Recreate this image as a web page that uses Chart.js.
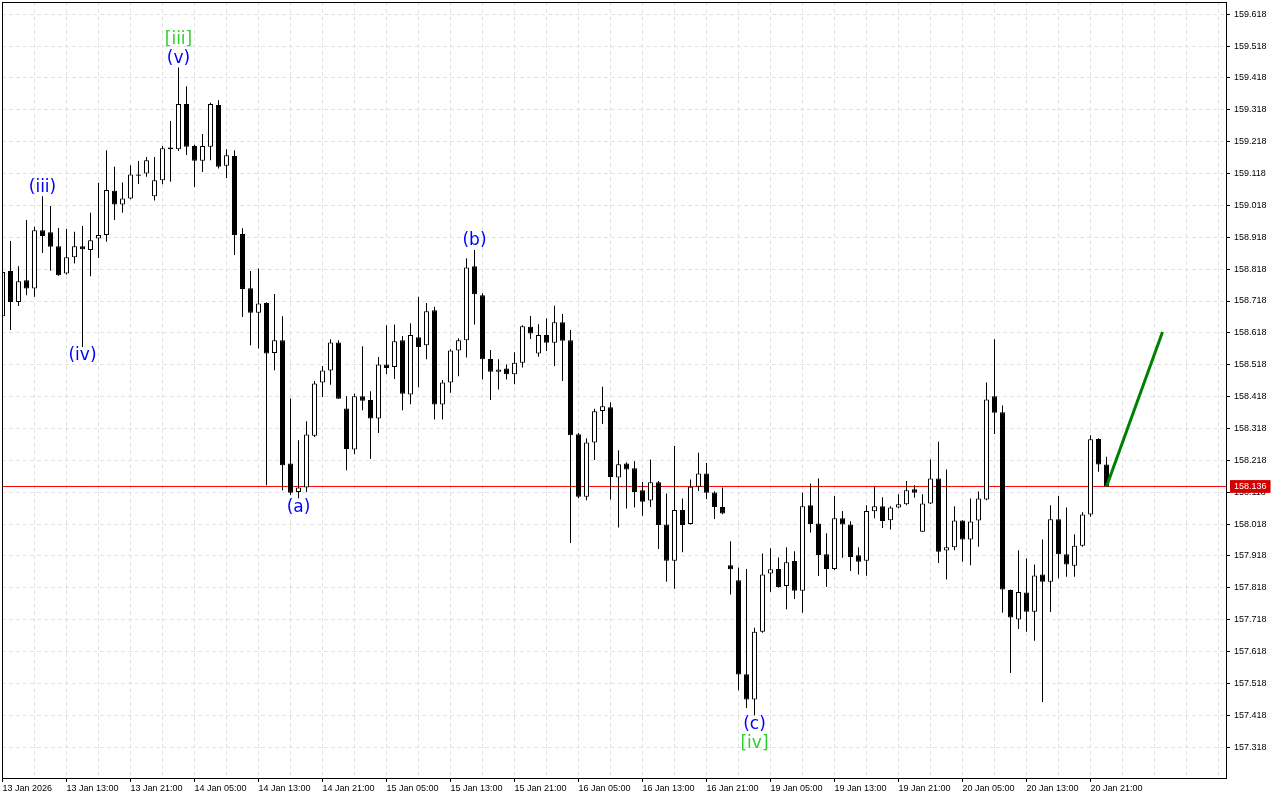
<!DOCTYPE html>
<html>
<head>
<meta charset="utf-8">
<script src="https://cdn.jsdelivr.net/npm/chart.js@4/dist/chart.umd.min.js"></script>
<style>
  html, body { margin: 0; padding: 0; background: #fff; }
  #wrap { width: 1280px; height: 800px; }
</style>
</head>
<body>
<div id="wrap"><canvas id="chart" width="1280" height="800"></canvas></div>
<script>
// H1 bars, 13 Jan 05:00 .. 20 Jan 23:00 (139 bars)
const opens = [
  158.670, 158.812, 158.715, 158.783, 158.757, 158.940, 158.934, 158.890, 158.804, 158.855,
  158.890, 158.878, 158.914, 158.925, 159.064, 159.021, 159.040, 159.115, 159.118, 159.047,
  159.097, 159.200, 159.194, 159.336, 159.204, 159.158, 159.202, 159.333, 159.142, 159.173,
  158.928, 158.758, 158.681, 158.712, 158.555, 158.595, 158.208, 158.119, 158.133, 158.295,
  158.462, 158.500, 158.588, 158.381, 158.252, 158.419, 158.407, 158.349, 158.519, 158.511,
  158.595, 158.425, 158.604, 158.579, 158.689, 158.393, 158.462, 158.563, 158.595, 158.827,
  158.736, 158.536, 158.496, 158.506, 158.488, 158.524, 158.637, 158.553, 158.611, 158.587,
  158.651, 158.595, 158.300, 158.104, 158.274, 158.373, 158.385, 158.164, 158.208, 158.193,
  158.124, 158.092, 158.149, 158.017, 157.903, 158.062, 158.018, 158.135, 158.177, 158.117,
  158.072, 157.889, 157.842, 157.547, 157.468, 157.680, 157.863, 157.877, 157.824, 157.902,
  157.809, 158.077, 158.020, 157.923, 157.877, 158.036, 158.017, 157.920, 157.903, 158.058,
  158.074, 158.030, 158.070, 158.080, 158.127, 157.994, 158.083, 158.161, 157.935, 157.945,
  158.029, 157.970, 158.029, 158.095, 158.419, 158.369, 157.811, 157.719, 157.803, 157.743,
  157.860, 157.837, 158.033, 157.923, 157.887, 157.950, 158.048, 158.285, 158.205
];
const highs = [
  158.893, 158.906, 158.827, 158.972, 158.951, 159.047, 159.016, 158.947, 158.944, 158.935,
  158.953, 158.995, 159.089, 159.191, 159.139, 159.090, 159.144, 159.157, 159.170, 159.170,
  159.204, 159.283, 159.451, 159.392, 159.208, 159.242, 159.340, 159.348, 159.194, 159.191,
  158.946, 158.812, 158.820, 158.714, 158.740, 158.670, 158.412, 158.281, 158.341, 158.467,
  158.514, 158.598, 158.595, 158.419, 158.428, 158.576, 158.435, 158.542, 158.642, 158.644,
  158.608, 158.648, 158.731, 158.712, 158.700, 158.470, 158.567, 158.601, 158.852, 158.878,
  158.742, 158.564, 158.535, 158.519, 158.557, 158.642, 158.671, 158.645, 158.663, 158.703,
  158.677, 158.627, 158.304, 158.287, 158.380, 158.449, 158.400, 158.250, 158.212, 158.215,
  158.150, 158.221, 158.153, 158.114, 158.263, 158.098, 158.158, 158.242, 158.210, 158.121,
  158.133, 157.964, 157.882, 157.877, 157.693, 157.926, 157.942, 157.913, 157.945, 157.933,
  158.116, 158.145, 158.161, 157.989, 158.106, 158.059, 158.027, 157.945, 158.077, 158.135,
  158.102, 158.074, 158.112, 158.153, 158.140, 158.112, 158.221, 158.276, 158.189, 158.074,
  158.030, 158.098, 158.120, 158.462, 158.598, 158.390, 157.813, 157.936, 157.910, 157.891,
  157.970, 158.077, 158.106, 158.070, 157.986, 158.055, 158.297, 158.287, 158.229
];
const lows = [
  158.627, 158.627, 158.702, 158.736, 158.731, 158.869, 158.813, 158.797, 158.801, 158.836,
  158.574, 158.796, 158.853, 158.904, 158.972, 158.995, 159.037, 159.085, 159.108, 159.033,
  159.084, 159.092, 159.189, 159.176, 159.076, 159.123, 159.160, 159.134, 159.104, 158.862,
  158.668, 158.579, 158.569, 158.140, 158.501, 158.124, 158.109, 158.099, 158.119, 158.291,
  158.417, 158.455, 158.411, 158.187, 158.237, 158.375, 158.222, 158.304, 158.489, 158.473,
  158.375, 158.394, 158.447, 158.535, 158.346, 158.346, 158.430, 158.482, 158.541, 158.644,
  158.472, 158.407, 158.440, 158.472, 158.457, 158.509, 158.599, 158.543, 158.561, 158.514,
  158.467, 157.959, 158.099, 158.093, 158.219, 158.332, 158.095, 158.007, 158.067, 158.070,
  158.044, 158.072, 157.940, 157.837, 157.815, 157.930, 158.017, 158.122, 158.097, 158.034,
  158.049, 157.797, 157.497, 157.441, 157.418, 157.677, 157.806, 157.818, 157.751, 157.783,
  157.740, 157.992, 157.855, 157.821, 157.874, 157.912, 157.871, 157.860, 157.856, 158.036,
  158.006, 158.001, 158.068, 158.077, 158.101, 157.993, 158.081, 157.896, 157.844, 157.936,
  157.900, 157.889, 157.947, 158.093, 158.301, 157.740, 157.551, 157.689, 157.680, 157.652,
  157.460, 157.742, 157.848, 157.853, 157.853, 157.947, 158.041, 158.182, 158.134
];
const closes = [
  158.809, 158.715, 158.780, 158.757, 158.940, 158.922, 158.888, 158.799, 158.855, 158.890,
  158.880, 158.909, 158.925, 159.066, 159.021, 159.040, 159.115, 159.111, 159.160, 159.097,
  159.197, 159.194, 159.336, 159.202, 159.158, 159.204, 159.336, 159.139, 159.175, 158.925,
  158.756, 158.681, 158.710, 158.553, 158.595, 158.203, 158.116, 158.133, 158.299, 158.459,
  158.500, 158.588, 158.411, 158.254, 158.419, 158.405, 158.349, 158.519, 158.508, 158.592,
  158.427, 158.611, 158.574, 158.686, 158.393, 158.462, 158.563, 158.595, 158.823, 158.739,
  158.535, 158.496, 158.503, 158.488, 158.524, 158.639, 158.616, 158.611, 158.587, 158.651,
  158.593, 158.297, 158.104, 158.274, 158.372, 158.388, 158.166, 158.206, 158.189, 158.119,
  158.088, 158.149, 158.015, 157.903, 158.062, 158.015, 158.135, 158.177, 158.116, 158.072,
  158.051, 157.876, 157.546, 157.468, 157.680, 157.860, 157.876, 157.821, 157.898, 157.809,
  158.074, 158.018, 157.921, 157.877, 158.036, 158.017, 157.915, 157.900, 158.059, 158.074,
  158.028, 158.070, 158.080, 158.124, 158.116, 158.083, 158.161, 157.931, 157.945, 158.029,
  157.970, 158.026, 158.098, 158.409, 158.367, 157.813, 157.725, 157.805, 157.743, 157.857,
  157.837, 158.033, 157.923, 157.891, 157.950, 158.048, 158.284, 158.205, 158.136
];

// one time label every 8 bars
const timeLabels = [
  '13 Jan 2026', '13 Jan 13:00', '13 Jan 21:00', '14 Jan 05:00', '14 Jan 13:00', '14 Jan 21:00',
  '15 Jan 05:00', '15 Jan 13:00', '15 Jan 21:00', '16 Jan 05:00', '16 Jan 13:00', '16 Jan 21:00',
  '19 Jan 05:00', '19 Jan 13:00', '19 Jan 21:00', '20 Jan 05:00', '20 Jan 13:00', '20 Jan 21:00'
];
const priceTicks = [
  157.318, 157.418, 157.518, 157.618, 157.718, 157.818, 157.918, 158.018, 158.118, 158.218, 158.318, 158.418,
  158.518, 158.618, 158.718, 158.818, 158.918, 159.018, 159.118, 159.218, 159.318, 159.418, 159.518, 159.618
];
const bidPrice = 158.136;

// projected move
const projBars = [138, 145];
const projPrices = [158.136, 158.621];

// wave marks
const waveText = ['(iii)', '(iv)', '(v)', '[iii]', '(a)', '(b)', '(c)', '[iv]'];
const waveBar = [5, 10, 22, 22, 37, 59, 94, 94];
const waveAt = ['high', 'low', 'high', 'high', 'low', 'high', 'low', 'low'];

const X_MIN = -0.0625, X_MAX = 152.9375;
const Y_MIN = 157.2213, Y_MAX = 159.6562;
const GRID = '#e2e2e2';

const bodyData = opens.map((o, i) => ({ x: i, y: [o, closes[i]] }));
const wickData = lows.map((l, i) => ({ x: i, y: [l, highs[i]] }));

function noPad(s) {
  s.paddingTop = 0;
  s.paddingBottom = 0;
  s.paddingLeft = 0;
  s.paddingRight = 0;
}

const framePlugin = {
  id: 'frame',
  afterDatasetsDraw(chart) {
    const { ctx, chartArea: a } = chart;
    ctx.save();
    ctx.strokeStyle = '#000';
    ctx.lineWidth = 1;
    ctx.strokeRect(a.left + 0.5, a.top + 0.5, a.right - a.left, a.bottom - a.top);
    ctx.restore();
  }
};

const wavePlugin = {
  id: 'waves',
  afterDatasetsDraw(chart) {
    const { ctx, scales: { x, y } } = chart;
    const used = {};
    ctx.save();
    ctx.font = '17px "DejaVu Sans"';
    ctx.textAlign = 'center';
    ctx.textBaseline = 'middle';
    waveText.forEach((t, i) => {
      const b = waveBar[i];
      const up = waveAt[i] === 'high';
      const key = b + waveAt[i];
      const n = used[key] || 0;
      used[key] = n + 1;
      const py = y.getPixelForValue(up ? highs[b] : lows[b]);
      const off = 9 + n * 19;
      ctx.fillStyle = t[0] === '[' ? '#32cd32' : '#0000ff';
      ctx.fillText(t, x.getPixelForValue(b), up ? py - off : py + off);
    });
    ctx.restore();
  }
};

new Chart(document.getElementById('chart').getContext('2d'), {
  type: 'bar',
  data: {
    datasets: [
      {
        type: 'line',
        label: 'projection',
        data: projBars.map((b, i) => ({ x: b, y: projPrices[i] })),
        borderColor: '#008000',
        borderWidth: 3,
        pointRadius: 0,
        order: 0
      },
      {
        label: 'body',
        data: bodyData,
        backgroundColor: ctx => closes[ctx.dataIndex] >= opens[ctx.dataIndex] ? '#ffffff' : '#000000',
        borderColor: '#000000',
        borderWidth: 1,
        borderSkipped: false,
        barThickness: 5,
        minBarLength: 1,
        grouped: false,
        inflateAmount: 0,
        order: 1
      },
      {
        label: 'wick',
        data: wickData,
        backgroundColor: '#000000',
        borderWidth: 0,
        barThickness: 1,
        grouped: false,
        inflateAmount: 0,
        order: 2
      },
      {
        type: 'line',
        label: 'bid',
        data: [{ x: X_MIN, y: bidPrice }, { x: X_MAX, y: bidPrice }],
        borderColor: '#ff0000',
        borderWidth: 1,
        pointRadius: 0,
        order: 3
      }
    ]
  },
  options: {
    responsive: false,
    animation: false,
    events: [],
    layout: { padding: { left: 2, top: 2, right: 0, bottom: 0 } },
    plugins: {
      legend: { display: false },
      tooltip: { enabled: false }
    },
    scales: {
      x: {
        type: 'linear',
        offset: false,
        min: X_MIN,
        max: X_MAX,
        afterFit: s => { s.height = 22; noPad(s); },
        afterBuildTicks: s => {
          const t = [];
          for (let v = 0; v <= 152; v += 4) t.push({ value: v });
          s.ticks = t;
        },
        ticks: {
          autoSkip: false,
          maxRotation: 0,
          align: 'start',
          padding: 1,
          color: '#000',
          font: { family: 'Liberation Sans', size: 9 },
          callback: v => (v % 8 === 0 && timeLabels[v / 8]) ? timeLabels[v / 8] : ''
        },
        grid: {
          offset: false,
          color: GRID,
          tickLength: 4,
          tickColor: ctx => (ctx.tick && ctx.tick.value % 8 === 0 && ctx.tick.value <= 136) ? '#000' : 'rgba(0,0,0,0)'
        },
        border: { display: false, dash: [4, 3] }
      },
      y: {
        type: 'linear',
        position: 'right',
        min: Y_MIN,
        max: Y_MAX,
        afterFit: s => { s.width = 54; noPad(s); },
        afterBuildTicks: s => {
          s.ticks = priceTicks.map(v => ({ value: v })).concat([{ value: bidPrice }]);
        },
        ticks: {
          autoSkip: false,
          padding: 4,
          color: ctx => ctx.tick.value === bidPrice ? '#ffffff' : '#000000',
          font: { family: 'Liberation Sans', size: 9 },
          callback: v => v.toFixed(3),
          showLabelBackdrop: ctx => ctx.tick.value === bidPrice,
          backdropColor: '#d40000',
          backdropPadding: { left: 4, right: 4, top: 1, bottom: 1 }
        },
        grid: {
          color: ctx => (ctx.tick && ctx.tick.value === bidPrice) ? 'rgba(0,0,0,0)' : GRID,
          tickLength: 4,
          tickColor: ctx => (ctx.tick && ctx.tick.value === bidPrice) ? 'rgba(0,0,0,0)' : '#000'
        },
        border: { display: false, dash: [4, 3] }
      }
    }
  },
  plugins: [framePlugin, wavePlugin]
});
</script>
</body>
</html>
